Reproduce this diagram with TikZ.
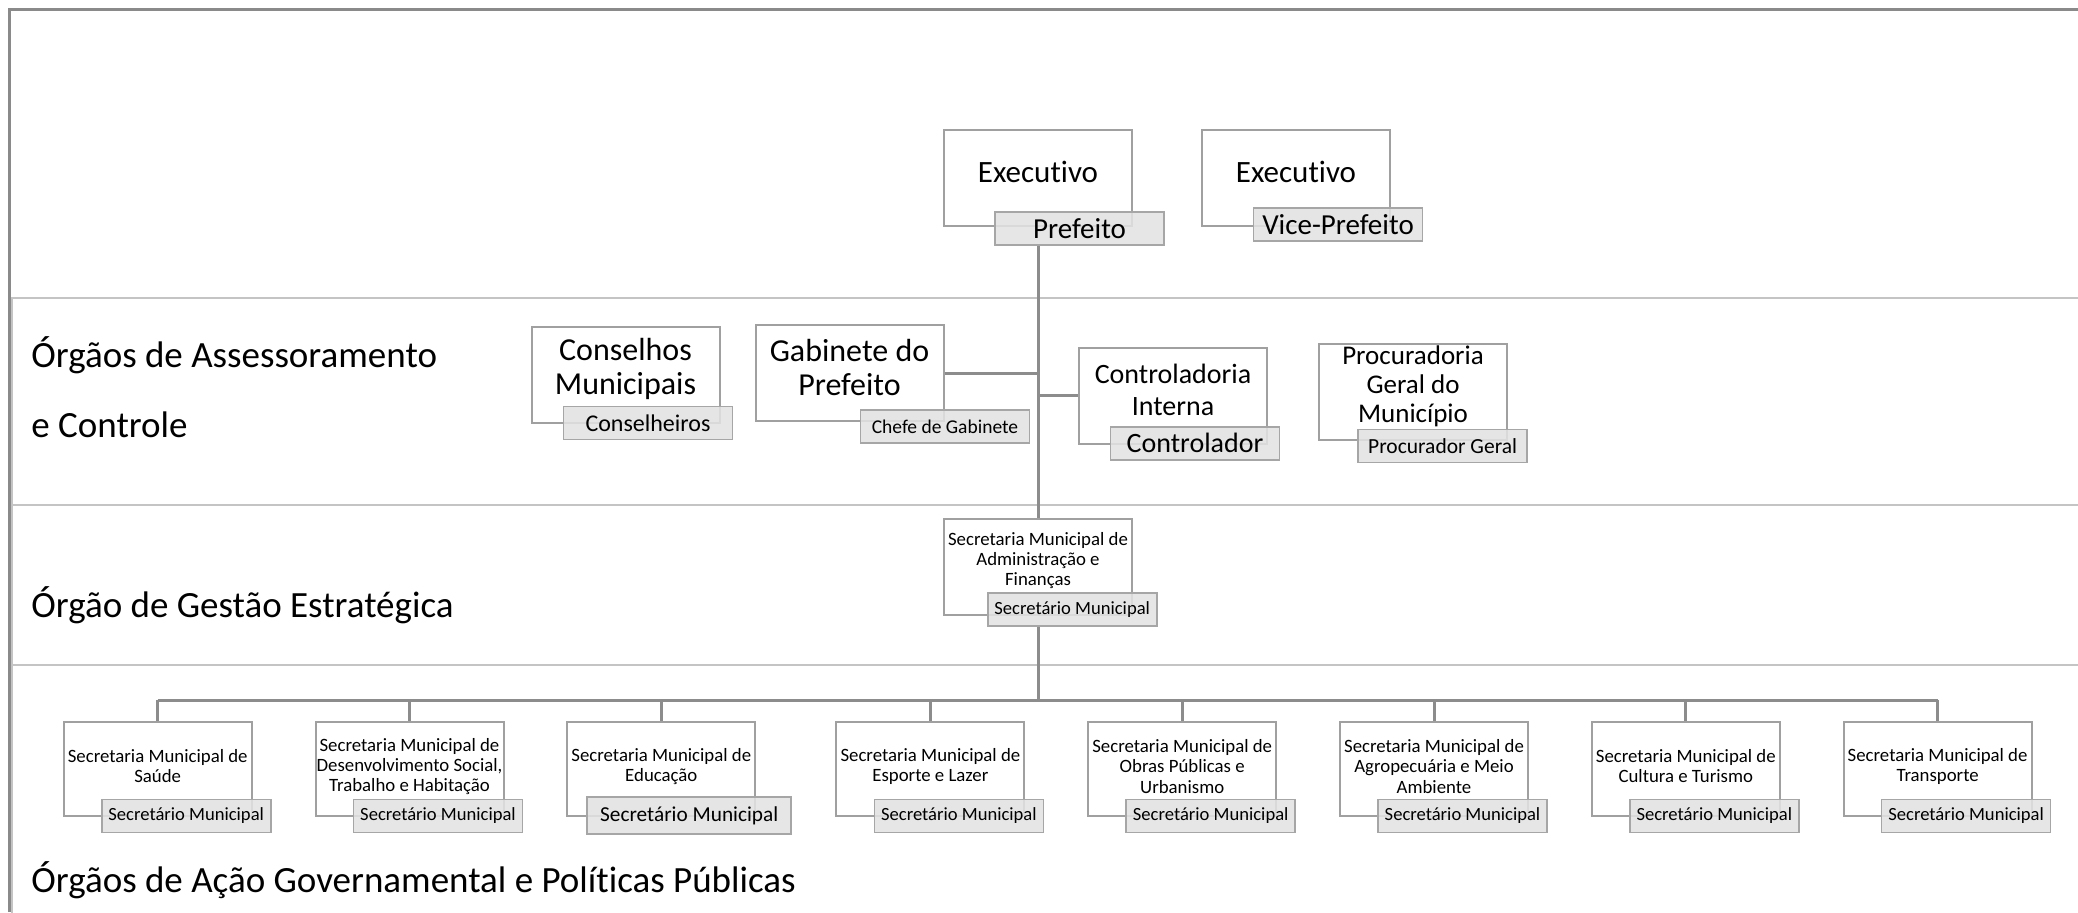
\documentclass[tikz,border=0pt]{standalone}
\usepackage{fontspec}
\setmainfont[RawFeature={-liga;-clig;-calt;-dlig}]{Carlito}
\usetikzlibrary{backgrounds}
\definecolor{boxline}{HTML}{A0A0A0}
\definecolor{tagline}{HTML}{A6A6A6}
\definecolor{tagfill}{HTML}{E2E2E2}
\definecolor{connline}{HTML}{8C8C8C}
\definecolor{bandline}{HTML}{C4C4C4}
\definecolor{frameline}{HTML}{8A8A8A}
\begin{document}
\begin{tikzpicture}[x=0.5pt,y=-0.5pt,
  unit/.style={draw=boxline, line width=1pt, fill=white, minimum width=94pt, minimum height=48pt, inner sep=0pt},
  utext/.style={align=center, inner sep=0pt},
  tag/.style={draw=tagline, line width=0.8pt, fill=tagfill, fill opacity=0.88, text opacity=1, minimum width=84.5pt, minimum height=16.5pt, inner sep=0pt},
  conn/.style={draw=connline, line width=1.5pt},
  band/.style={draw=bandline, line width=1.25pt},
  frame/.style={draw=frameline, line width=1.5pt},
  bandlabel/.style={anchor=base west, inner sep=0pt, font=\fontsize{18.5}{22}\selectfont},
  fExec/.style={font=\fontsize{15.5}{18}\selectfont},
  fBig/.style={font=\fontsize{16}{17}\selectfont},
  fMid/.style={font=\fontsize{14}{16}\selectfont},
  fProc/.style={font=\fontsize{13.5}{14.5}\selectfont},
  fSec/.style={font=\fontsize{9.4}{10.1}\selectfont},
  fTit/.style={font=\fontsize{9.3}{11}\selectfont}
]
\useasboundingbox (0,0) rectangle (2078,912);

% ---- band labels
\node[bandlabel] (bandA1) at (31,367) {Órgãos de Assessoramento};
\node[bandlabel] (bandA2) at (31,437) {e Controle};
\node[bandlabel] (bandB) at (31,617) {Órgão de Gestão Estratégica};
\node[bandlabel] (bandC) at (31,892) {Órgãos de Ação Governamental e Políticas Públicas};

% ---- executive level
\node[unit] (execP) at (1038,178) {};
\node[utext, fExec] (execPt) at ([yshift=3pt]execP.center) {Executivo};
\node[tag, font=\fontsize{14.5}{17}\selectfont] (pref) at (1079.5,228.6) {Prefeito};

\node[unit] (execV) at (1296,178) {};
\node[utext, fExec] (execVt) at ([yshift=3pt]execV.center) {Executivo};
\node[tag, font=\fontsize{14.5}{17}\selectfont] (vpref) at (1338,224.6) {Vice-Prefeito};

% ---- advisory and control
\node[unit] (cons) at (625.5,375) {};
\node[utext, fBig] (const) at ([yshift=3pt]cons.center) {Conselhos\\Municipais};
\node[tag, font=\fontsize{12}{14}\selectfont] (consl) at (648,422.8) {Conselheiros};

\node[unit] (gab) at (849.5,373) {};
\node[utext, fBig] (gabt) at ([yshift=3pt]gab.center) {Gabinete do\\Prefeito};
\node[tag, font=\fontsize{9.75}{12}\selectfont] (chefe) at (945,426.7) {Chefe de Gabinete};

\node[unit] (ctrl) at (1173,395.6) {};
\node[utext, fMid] (ctrlt) at ([yshift=3pt]ctrl.center) {Controladoria\\Interna};
\node[tag, fMid] (ctrlr) at (1195,443.3) {Controlador};

\node[unit] (proc) at (1413,391.6) {};
\node[utext, fProc] (proct) at ([yshift=2.5pt]proc.center) {Procuradoria\\Geral do\\Município};
\node[tag, font=\fontsize{10.75}{13}\selectfont] (procg) at (1442.6,446) {Procurador Geral};

% ---- strategic management
\node[unit] (smaf) at (1038,566.6) {};
\node[utext, fSec] (smaft) at ([yshift=3pt]smaf.center) {Secretaria Municipal de\\Administração e\\Finanças};
\node[tag, fTit] (smafl) at (1072.2,609.6) {Secretário Municipal};

% ---- secretariats
\foreach \i/\x/\txt in {
  1/157.7/{Secretaria Municipal de\\Saúde},
  2/409.5/{Secretaria Municipal de\\Desenvolvimento Social,\\Trabalho e Habitação},
  3/661.3/{Secretaria Municipal de\\Educação},
  4/930.4/{Secretaria Municipal de\\Esporte e Lazer},
  5/1182.2/{Secretaria Municipal de\\Obras Públicas e\\Urbanismo},
  6/1434/{Secretaria Municipal de\\Agropecuária e Meio\\Ambiente},
  7/1685.8/{Secretaria Municipal de\\Cultura e Turismo},
  8/1937.6/{Secretaria Municipal de\\Transporte}} {
  \node[unit, minimum height=47pt] (s\i) at (\x,769.4) {};
  \node[utext, fSec] (s\i t) at ([yshift=1.5pt]s\i.center) {\txt};
}
\foreach \i in {1,2,4,5,6,7,8} {
  \node[tag, fTit] (s\i l) at ([xshift=14.25pt,yshift=-23.3pt]s\i.center) {Secretário Municipal};
}
\node[tag, font=\fontsize{10.65}{13}\selectfont, minimum width=102pt, minimum height=18.5pt] (s3l) at (689.2,815.5) {Secretário Municipal};

\coordinate (bus) at (1038,700);

% ---- bands, frame and connectors behind the boxes
\begin{pgfonlayer}{background}
  \draw[band] (12,298) rectangle (2090,505);
  \draw[band] (12,505) rectangle (2090,665);
  \draw[band] (12,665) rectangle (2090,930);
  \draw[frame] (9,912) -- (9,9) -- (2090,9);
  \draw[conn] (pref.south -| execP.south) -- (smaf.north);
  \draw[conn] (gab.east) -- (gab.east -| execP.south);
  \draw[conn] (ctrl.west) -- (ctrl.west -| execP.south);
  \draw[conn] (smafl.south -| smaf.south) -- (bus);
  \draw[conn] (bus -| s1.north) -- (bus -| s8.north);
  \foreach \i in {1,...,8} {
    \draw[conn] (bus -| s\i.north) -- (s\i.north);
  }
\end{pgfonlayer}
\end{tikzpicture}
\end{document}
